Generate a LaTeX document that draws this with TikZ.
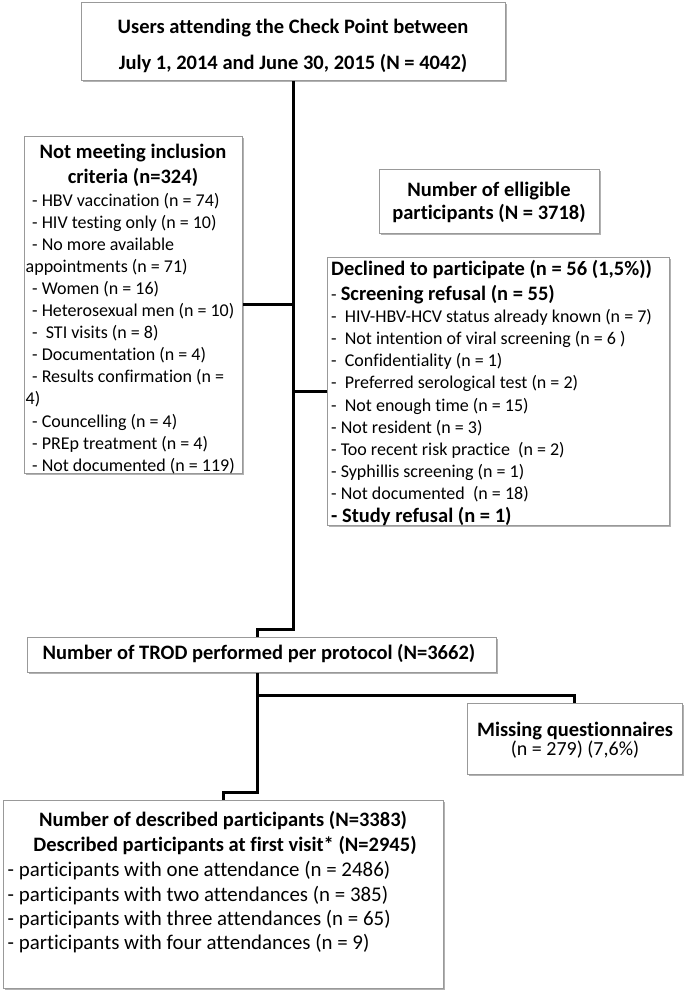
\documentclass[tikz,border=0pt]{standalone}
\usepackage{fontspec}
\setmainfont{Carlito}[Ligatures=NoCommon]
\usetikzlibrary{shadows}
\begin{document}
\begin{tikzpicture}[x=1pt,y=-1pt,
  box/.style={draw=black!40, line width=0.8pt, fill=white, rectangle, inner sep=0pt, anchor=north west,
    drop shadow={shadow xshift=1.8pt, shadow yshift=-1.8pt, fill=black, opacity=0.3}},
  conn/.style={line width=3pt, line join=miter, draw=black},
  hd/.style={font=\fontsize{20.5}{24}\selectfont\bfseries, inner sep=0pt, anchor=base},
  hdl/.style={font=\fontsize{20.5}{24}\selectfont\bfseries, inner sep=0pt, anchor=base west},
  tx/.style={font=\fontsize{18}{22}\selectfont, inner sep=0pt, anchor=base west},
  txc/.style={font=\fontsize{20}{24}\selectfont, inner sep=0pt, anchor=base},
  txb/.style={font=\fontsize{20.9}{24}\selectfont, inner sep=0pt, anchor=base west}]
\useasboundingbox (0,0) rectangle (685,993);
\fill[white] (0,0) rectangle (685,993);

% boxes
\node[box, minimum width=424pt, minimum height=78pt] (top) at (81,2) {};
\node[box, minimum width=218pt, minimum height=337pt] (left) at (24,136) {};
\node[box, minimum width=220pt, minimum height=64pt] (elig) at (379,169) {};
\node[box, minimum width=342pt, minimum height=268pt] (dec) at (327,257) {};
\node[box, minimum width=469pt, minimum height=35pt] (trod) at (27,637) {};
\node[box, minimum width=215pt, minimum height=71pt] (miss) at (467,703) {};
\node[box, minimum width=440pt, minimum height=188pt] (bot) at (3,800) {};

% connectors
\coordinate (t1) at (257,629);
\coordinate (b1) at (257,792);
\coordinate (b2) at (257,695);
\draw[conn] (top.south) |- (t1) -- (t1 |- trod.north);
\draw[conn] (left.east) -- (left.east -| top.south);
\draw[conn] (dec.west) -- (dec.west -| top.south);
\draw[conn] (t1 |- trod.south) -- (b1) -| (bot.north);
\draw[conn] (b2) -| (miss.north);

% top box
\node[hd] (top1) at (293,33) {Users attending the Check Point between};
\node[hd] (top2) at (293,69.5) {July 1, 2014 and June 30, 2015 (N = 4042)};

% left box
\node[hd] (lt1) at (133,158) {Not meeting inclusion};
\node[hd] (lt2) at (133,183) {criteria (n=324)};
\node[tx] (l1) at (32,206) {- HBV vaccination (n = 74)};
\node[tx] (l2) at (32,228.1) {- HIV testing only (n = 10)};
\node[tx] (l3) at (32,250.2) {- No more available};
\node[tx] (l4) at (25.5,272.3) {appointments (n = 71)};
\node[tx] (l5) at (32,294.4) {- Women (n = 16)};
\node[tx] (l6) at (32,316.5) {- Heterosexual men (n = 10)};
\node[tx] (l7) at (32,338.6) {-\ \ STI visits (n = 8)};
\node[tx] (l8) at (32,360.7) {- Documentation (n = 4)};
\node[tx] (l9) at (32,382.8) {- Results confirmation (n =};
\node[tx] (l10) at (25.5,404.9) {4)};
\node[tx] (l11) at (32,427) {- Councelling (n = 4)};
\node[tx] (l12) at (32,449.1) {- PREp treatment (n = 4)};
\node[tx] (l13) at (32,471.2) {- Not documented (n = 119)};

% eligible box
\node[hd] (e1) at (489,196) {Number of elligible};
\node[hd] (e2) at (489,219.5) {participants (N = 3718)};

% declined box
\node[hdl] (d0) at (331,275) {Declined to participate (n = 56 (1,5\%))};
\node[tx] (d1) at (331,300) {- \textbf{\fontsize{20.5}{24}\selectfont Screening refusal (n = 55)}};
\node[tx] (d2) at (331,322.7) {-\ \ HIV-HBV-HCV status already known (n = 7)};
\node[tx] (d3) at (331,344.8) {-\ \ Not intention of viral screening (n = 6 )};
\node[tx] (d4) at (331,366.9) {-\ \ Confidentiality (n = 1)};
\node[tx] (d5) at (331,388.9) {-\ \ Preferred serological test (n = 2)};
\node[tx] (d6) at (331,411) {-\ \ Not enough time (n = 15)};
\node[tx] (d7) at (331,433.1) {- Not resident (n = 3)};
\node[tx] (d8) at (331,455.2) {- Too recent risk practice\ \ (n = 2)};
\node[tx] (d9) at (331,477.3) {- Syphillis screening (n = 1)};
\node[tx] (d10) at (331,499.3) {- Not documented\ \ (n = 18)};
\node[hdl] (d11) at (331,522) {- Study refusal (n = 1)};

% TROD box
\node[font=\fontsize{20.5}{24}\selectfont\bfseries, inner sep=0pt, anchor=base east] (tr) at (475.5,659.3) {Number of TROD performed per protocol (N=3662)};

% missing box
\node[hd] (m1) at (575,736) {Missing questionnaires};
\node[txc] (m2) at (575,755.5) {(n = 279) (7,6\%)};

% bottom box
\node[hd] (bt1) at (223,826.7) {Number of described participants (N=3383)};
\node[hd] (bt2) at (225,851.7) {Described participants at first visit* (N=2945)};
\node[txb] (bl1) at (7.5,876.7) {- participants with one attendance (n = 2486)};
\node[txb] (bl2) at (7.5,901) {- participants with two attendances (n = 385)};
\node[txb] (bl3) at (7.5,925.3) {- participants with three attendances (n = 65)};
\node[txb] (bl4) at (7.5,949.6) {- participants with four attendances (n = 9)};
\end{tikzpicture}
\end{document}
